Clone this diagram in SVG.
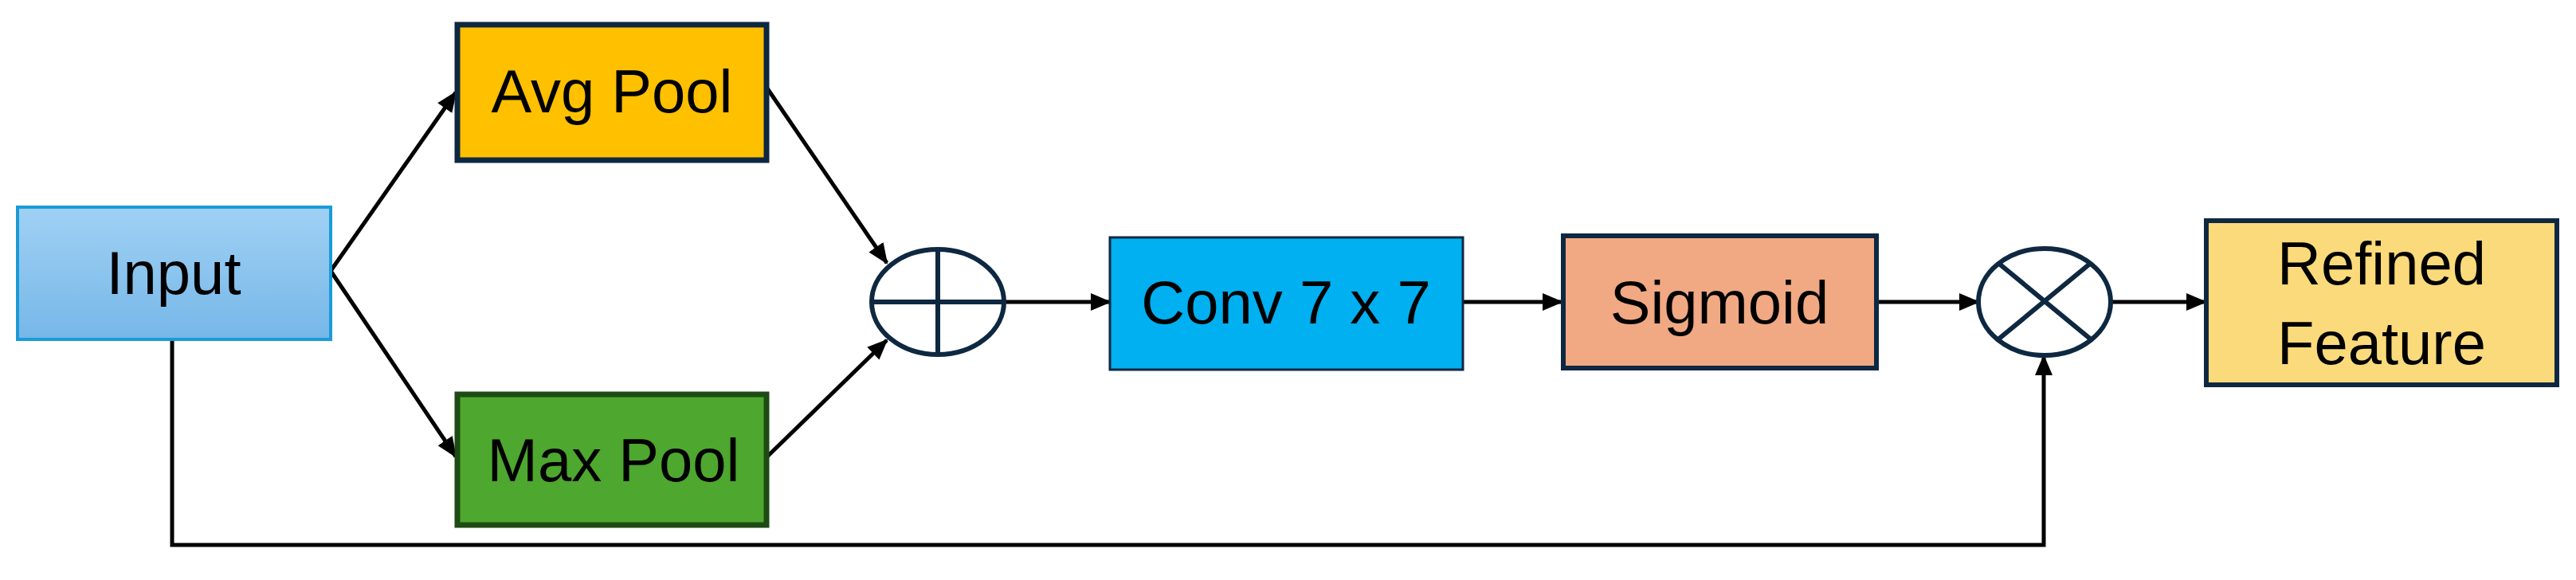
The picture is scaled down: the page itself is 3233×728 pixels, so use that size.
<svg xmlns="http://www.w3.org/2000/svg" width="3233" height="728" viewBox="0 0 3233 728">
<style>
text{font-family:"Liberation Sans",Arial,sans-serif;font-size:76px;fill:#000;text-anchor:middle}
.c{fill:none;stroke:#000;stroke-width:5}
.op{fill:#fff;stroke:#0E2841;stroke-width:6}
.opl{stroke:#0E2841;stroke-width:6}
</style>
<defs>
<linearGradient id="gi" x1="0" y1="0" x2="0" y2="1"><stop offset="0" stop-color="#A0D1F4"/><stop offset="1" stop-color="#76B7E8"/></linearGradient>
<marker id="a" markerUnits="userSpaceOnUse" markerWidth="26" markerHeight="26" viewBox="0 0 26 26" refX="24" refY="13" orient="auto"><path d="M0,2 L26,13 L0,24 Z" fill="#000"/></marker>
</defs>
<g id="connectors">
<line class="c" x1="415" y1="340" x2="572" y2="116" marker-end="url(#a)"/>
<line class="c" x1="415" y1="340" x2="572" y2="573" marker-end="url(#a)"/>
<line class="c" x1="963" y1="111" x2="1113" y2="330" marker-end="url(#a)"/>
<line class="c" x1="963" y1="573" x2="1113" y2="427" marker-end="url(#a)"/>
<line class="c" x1="1260" y1="379" x2="1393" y2="379" marker-end="url(#a)"/>
<line class="c" x1="1836" y1="379" x2="1960" y2="379" marker-end="url(#a)"/>
<line class="c" x1="2356" y1="379" x2="2483" y2="379" marker-end="url(#a)"/>
<line class="c" x1="2649" y1="379" x2="2768" y2="379" marker-end="url(#a)"/>
<polyline class="c" points="216,426 216,684 2565,684 2565,447" marker-end="url(#a)"/>
</g>
<g id="input"><rect x="22" y="260" width="393" height="166" fill="url(#gi)" stroke="#1A9BD7" stroke-width="4"/><text x="218" y="369">Input</text></g>
<g id="avgpool"><rect x="574" y="31" width="388" height="170" fill="#FFC000" stroke="#0E2841" stroke-width="7"/><text x="768" y="141">Avg Pool</text></g>
<g id="maxpool"><rect x="574" y="495" width="388" height="164" fill="#4EA72E" stroke="#1E4B14" stroke-width="7"/><text x="770" y="604">Max Pool</text></g>
<g id="add"><ellipse class="op" cx="1177" cy="379" rx="83" ry="66"/><line class="opl" x1="1177" y1="313" x2="1177" y2="445"/><line class="opl" x1="1094" y1="379" x2="1260" y2="379"/></g>
<g id="conv"><rect x="1393" y="298" width="443" height="166" fill="#00B0F0" stroke="#0E2841" stroke-width="3"/><text x="1614" y="406">Conv 7 x 7</text></g>
<g id="sigmoid"><rect x="1962" y="296" width="393" height="166" fill="#F1A983" stroke="#0E2841" stroke-width="6"/><text x="2158" y="406">Sigmoid</text></g>
<g id="mul"><ellipse class="op" cx="2566" cy="379" rx="83" ry="67"/><line class="opl" x1="2509" y1="331" x2="2623" y2="425"/><line class="opl" x1="2623" y1="331" x2="2509" y2="425"/></g>
<g id="refined"><rect x="2769" y="277" width="440" height="206" fill="#FADA7A" stroke="#0E2841" stroke-width="6"/><text x="2989" y="357">Refined</text><text x="2989" y="457">Feature</text></g>
</svg>
